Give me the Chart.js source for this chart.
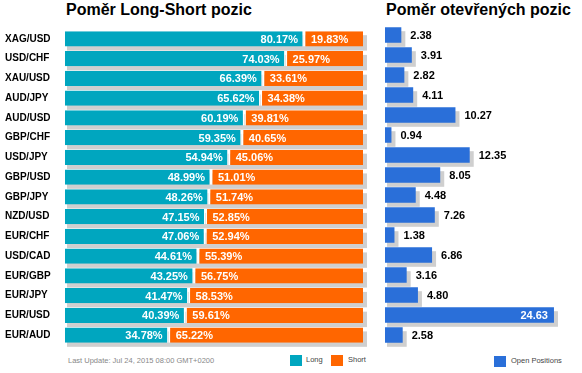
<!DOCTYPE html>
<html>
<head>
<meta charset="utf-8">
<script src="https://cdn.jsdelivr.net/npm/chart.js@4.4.0/dist/chart.umd.min.js"></script>
<style>
  body { margin: 0; background: #fff; font-family: "Liberation Sans", Arial, sans-serif; }
  #wrap { position: relative; width: 582px; height: 373px; overflow: hidden; }
  .title { position: absolute; top: 1px; font-weight: bold; font-size: 16px; color: #000; }
  canvas { position: absolute; }
  .foot { position: absolute; font-size: 7.5px; color: #888; }
  .leg { position: absolute; font-size: 7.5px; color: #444; }
  .sw { position: absolute; width: 12px; height: 11px; }
</style>
</head>
<body>
<div id="wrap">
  <div class="title" style="left:66px">Poměr Long-Short pozic</div>
  <div class="title" style="left:386px">Poměr otevřených pozic</div>
  <canvas id="ls" style="left:0;top:20px" width="375" height="335"></canvas>
  <canvas id="op" style="left:375px;top:20px" width="207" height="335"></canvas>
  <div class="foot" style="left:68px;top:356px">Last Update: Jul 24, 2015 08:00 GMT+0200</div>
  <div class="sw" style="left:290px;top:355px;background:#00a6bf"></div>
  <div class="leg" style="left:306px;top:355px">Long</div>
  <div class="sw" style="left:331px;top:355px;background:#ff6600"></div>
  <div class="leg" style="left:348px;top:355px">Short</div>
  <div class="sw" style="left:494px;top:356px;background:#2a6fd9"></div>
  <div class="leg" style="left:511px;top:356px">Open Positions</div>
</div>
<script>
const pairs = ['XAG/USD', 'USD/CHF', 'XAU/USD', 'AUD/JPY', 'AUD/USD', 'GBP/CHF', 'USD/JPY', 'GBP/USD',
    'GBP/JPY', 'NZD/USD', 'EUR/CHF', 'USD/CAD', 'EUR/GBP', 'EUR/JPY', 'EUR/USD', 'EUR/AUD'];
const longPct = [80.17, 74.03, 66.39, 65.62, 60.19, 59.35, 54.94, 48.99, 48.26, 47.15, 47.06, 44.61, 43.25, 41.47, 40.39, 34.78];
const shortPct = [19.83, 25.97, 33.61, 34.38, 39.81, 40.65, 45.06, 51.01, 51.74, 52.85, 52.94, 55.39, 56.75, 58.53, 59.61, 65.22];
const openPos = [2.38, 3.91, 2.82, 4.11, 10.27, 0.94, 12.35, 8.05, 4.48, 7.26, 1.38, 6.86, 3.16, 4.80, 24.63, 2.58];

const teal = '#00a6bf';
const orange = '#ff6600';
const blue = '#2a6fd9';
const shadowGray = '#cfcfcf';
const labelFont = 'bold 11px "Liberation Sans", Arial, sans-serif';

// gray drop shadow behind each row (whole stacked bar)
const shadowPlugin = {
    id: 'shadow',
    beforeDatasetsDraw(chart) {
        const ctx = chart.ctx;
        const first = chart.getDatasetMeta(0).data;
        const last = chart.getDatasetMeta(chart.data.datasets.length - 1).data;
        ctx.save();
        ctx.fillStyle = shadowGray;
        first.forEach((bar, i) => {
            const top = bar.y - bar.height / 2;
            const x0 = bar.base + 2;
            const x1 = last[i].x + 4;
            ctx.fillRect(x0, top + 4, x1 - x0, bar.height);
        });
        ctx.restore();
    }
};

// percentage labels inside the stacked bars
const pctLabels = {
    id: 'pctLabels',
    afterDatasetsDraw(chart) {
        const ctx = chart.ctx;
        ctx.save();
        ctx.font = labelFont;
        ctx.fillStyle = '#fff';
        ctx.textBaseline = 'middle';
        chart.getDatasetMeta(0).data.forEach((bar, i) => {
            ctx.textAlign = 'right';
            ctx.fillText(longPct[i].toFixed(2) + '%', bar.x - 6, bar.y + 1);
        });
        chart.getDatasetMeta(1).data.forEach((bar, i) => {
            ctx.textAlign = 'left';
            ctx.fillText(shortPct[i].toFixed(2) + '%', bar.base + 7, bar.y + 1);
        });
        ctx.restore();
    }
};

// value labels for open positions
const valLabels = {
    id: 'valLabels',
    afterDatasetsDraw(chart) {
        const ctx = chart.ctx;
        ctx.save();
        ctx.font = labelFont;
        ctx.textBaseline = 'middle';
        chart.getDatasetMeta(0).data.forEach((bar, i) => {
            const txt = openPos[i].toFixed(2);
            const w = ctx.measureText(txt).width;
            if (bar.x + 9 + w > chart.width) {
                ctx.fillStyle = '#fff';
                ctx.textAlign = 'right';
                ctx.fillText(txt, bar.x - 6, bar.y + 1);
            } else {
                ctx.fillStyle = '#000';
                ctx.textAlign = 'left';
                ctx.fillText(txt, bar.x + 9, bar.y + 1);
            }
        });
        ctx.restore();
    }
};

new Chart(document.getElementById('ls'), {
    type: 'bar',
    data: {
        labels: pairs,
        datasets: [{
            label: 'Long',
            data: longPct,
            backgroundColor: teal,
            borderColor: '#fff',
            borderWidth: { left: 0, top: 0, bottom: 0, right: 1.5 },
            borderSkipped: false,
            categoryPercentage: 0.78,
            barPercentage: 1
        }, {
            label: 'Short',
            data: shortPct,
            backgroundColor: orange,
            borderColor: '#fff',
            borderWidth: { left: 1.5, top: 0, bottom: 0, right: 0 },
            borderSkipped: false,
            categoryPercentage: 0.78,
            barPercentage: 1
        }]
    },
    options: {
        indexAxis: 'y',
        responsive: false,
        animation: false,
        layout: { padding: { left: 5, right: 12, top: 5, bottom: 10 } },
        plugins: { legend: { display: false }, tooltip: { enabled: false } },
        scales: {
            x: { stacked: true, min: 0, max: 100, display: false },
            y: {
                stacked: true,
                grid: { display: false },
                border: { display: false },
                ticks: {
                    crossAlign: 'far',
                    color: '#000',
                    font: { family: '"Liberation Sans", Arial, sans-serif', size: 10, weight: 'bold' }
                },
                afterFit(scale) { scale.width = 60; }
            }
        }
    },
    plugins: [shadowPlugin, pctLabels]
});

new Chart(document.getElementById('op'), {
    type: 'bar',
    data: {
        labels: pairs,
        datasets: [{
            label: 'Open Positions',
            data: openPos,
            backgroundColor: blue,
            categoryPercentage: 0.78,
            barPercentage: 1
        }]
    },
    options: {
        indexAxis: 'y',
        responsive: false,
        animation: false,
        layout: { padding: { left: 10, right: 25.5, top: 5, bottom: 10 } },
        plugins: { legend: { display: false }, tooltip: { enabled: false } },
        scales: {
            x: { min: 0, max: 25, display: false },
            y: { display: false }
        }
    },
    plugins: [shadowPlugin, valLabels]
});
</script>
</body>
</html>
